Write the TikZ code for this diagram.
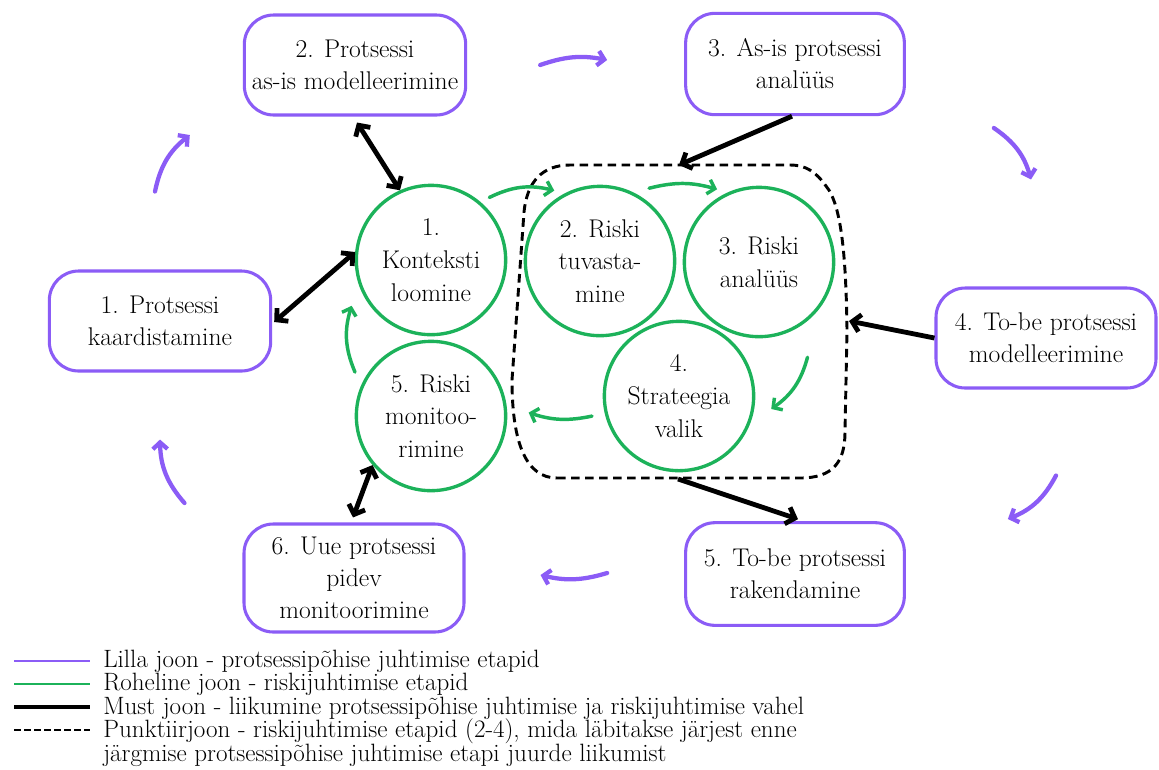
\documentclass[tikz,border=0pt]{standalone}
\usepackage{fontspec}
\usetikzlibrary{arrows.meta,calc}
\definecolor{lilla}{RGB}{139,92,246}
\definecolor{roheline}{RGB}{28,178,90}
\begin{document}
\begin{tikzpicture}[x=0.75pt,y=-0.75pt,
  pbox/.style={draw=lilla, line width=2.3pt, rounded corners=22pt, align=center,
    inner sep=0pt, font=\fontsize{19.2}{24}\selectfont},
  rcirc/.style={draw=roheline, circle, line width=2.5pt, minimum size=112pt,
    inner sep=0pt, align=center, font=\fontsize{19.2}{24.5}\selectfont},
  blkarrow/.style={line width=3.6pt, -{Straight Barb[length=6pt,width=13pt]}},
  blkboth/.style={line width=3.6pt,
    {Straight Barb[length=6pt,width=13pt]}-{Straight Barb[length=6pt,width=13pt]}},
  grarrow/.style={draw=roheline, line width=2.6pt, line cap=round,
    -{Straight Barb[length=5pt,width=11pt]}},
  liarrow/.style={draw=lilla, line width=3.2pt, line cap=round,
    -{Straight Barb[length=5pt,width=11pt]}},
  legendtext/.style={anchor=base west, inner sep=0pt, font=\fontsize{18.8}{22}\selectfont}
]
\fill[white] (0,0) rectangle (1159,769);
\useasboundingbox (0,0) rectangle (1159,769);

% process management stages
\node[pbox, minimum width=166pt, minimum height=75pt] (b1) at (160,321) {1. Protsessi\\kaardistamine};
\node[pbox, minimum width=166pt, minimum height=75pt] (b2) at (355,65) {2. Protsessi\\as-is modelleerimine};
\node[pbox, minimum width=164pt, minimum height=76pt] (b3) at (795,64) {3. As-is protsessi\\analüüs};
\node[pbox, minimum width=165pt, minimum height=75pt] (b4) at (1046,338) {4. To-be protsessi\\modelleerimine};
\node[pbox, minimum width=164pt, minimum height=77pt] (b5) at (795,574) {5. To-be protsessi\\rakendamine};
\node[pbox, minimum width=165pt, minimum height=81pt] (b6) at (354,578) {6. Uue protsessi\\pidev\\monitoorimine};

% risk management stages
\node[rcirc] (c1) at (431,260) {1.\\Konteksti\\loomine};
\node[rcirc] (c2) at (600,261) {2. Riski\\tuvasta-\\mine};
\node[rcirc] (c3) at (759,262) {3. Riski\\analüüs};
\node[rcirc] (c4) at (679,396) {4.\\Strateegia\\valik};
\node[rcirc] (c5) at (431,416) {5. Riski\\monitoo-\\rimine};

% dashed frame around risk stages 2-4
\draw[line width=2.2pt, dash pattern=on 6.5pt off 4pt]
  (557,478) -- (800,478) .. controls (833,478) and (845,462) .. (845,432)
  -- (847,330) .. controls (846,260) and (842,205) .. (826,186)
  .. controls (816,172) and (806,165) .. (790,165)
  -- (570,165) .. controls (542,165) and (527,182) .. (524,212)
  -- (512,380) .. controls (512,445) and (527,478) .. (557,478) -- cycle;
\coordinate (dtop) at (679,165);
\coordinate (dright) at (849,321);
\coordinate (dbot) at (678,479);

% process cycle
\draw[liarrow] ($(b1.north)+(-5,-78)$) to[bend left=20] ($(b2.west)+(-53,70)$);
\draw[liarrow] ($(b2.east)+(73,0)$) to[bend left=15] ($(b3.west)+(-77,-4)$);
\draw[liarrow] ($(b3.east)+(88,64)$) to[bend left=20] ($(b4.north)+(-15,-107)$);
\draw[liarrow] ($(b4.south)+(10,86)$) to[bend left=20] ($(b5.east)+(102,-55)$);
\draw[liarrow] ($(b5.west)+(-77,-1)$) to[bend left=15] ($(b6.east)+(75,-3)$);
\draw[liarrow] ($(b6.west)+(-58,-75)$) to[bend left=20] ($(b1.south)+(0,67)$);

% risk cycle
\draw[grarrow] ($(c1.center)!1.12!(c1.47)$) to[bend left=20] ($(c2.center)!1.1!(c2.123)$);
\draw[grarrow] ($(c2.center)!1.15!(c2.56)$) to[bend left=15] ($(c3.center)!1.1!(c3.120)$);
\draw[grarrow] ($(c3.center)!1.4!(c3.-63)$) to[bend left=20] ($(c4.center)!1.22!(c4.-8)$);
\draw[grarrow] ($(c4.center)!1.17!(c4.193)$) to[bend left=15] ($(c5.center)!1.28!(c5.2)$);
\draw[grarrow] ($(c5.center)!1.15!(c5.150)$) to[bend left=20] ($(c1.center)!1.2!(c1.210)$);

% transitions between the two cycles
\draw[blkboth] ($(b2.south)+(2,6)$) -- (c1.114);
\draw[blkboth] ($(b1.east)+(2,1)$) -- (c1.174);
\draw[blkboth] ($(b6.north)+(-1,-5)$) -- (c5.220);
\draw[blkarrow] ($(b3.south)+(-3,0)$) -- (dtop);
\draw[blkarrow] (b4.west) -- (dright);
\draw[blkarrow] (dbot) -- ($(b5.north)+(3,-2)$);

% legend
\draw[lilla, line width=2.2pt] (14,661) -- (90,661);
\draw[roheline, line width=2.2pt] (14,684) -- (90,684);
\draw[black, line width=2.6pt] (14,707) -- (90,707);
\draw[black, line width=2.2pt, dash pattern=on 5pt off 2.5pt] (14,730) -- (90,730);
\node[legendtext] (l1) at (103,667) {Lilla joon - protsessipõhise juhtimise etapid};
\node[legendtext] (l2) at (103,690.5) {Roheline joon - riskijuhtimise etapid};
\node[legendtext] (l3) at (103,714) {Must joon - liikumine protsessipõhise juhtimise ja riskijuhtimise vahel};
\node[legendtext] (l4) at (103,737.5) {Punktiirjoon - riskijuhtimise etapid (2-4), mida läbitakse järjest enne};
\node[legendtext] (l5) at (103,761) {järgmise protsessipõhise juhtimise etapi juurde liikumist};
\end{tikzpicture}
\end{document}
